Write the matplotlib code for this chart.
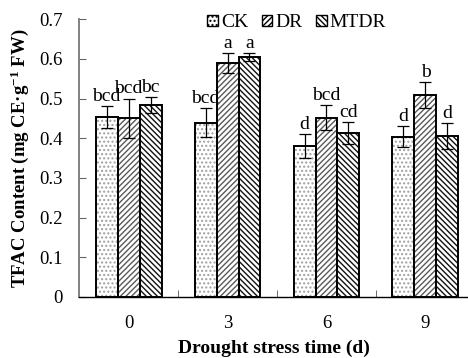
import numpy as np
import matplotlib
matplotlib.use("Agg")
import matplotlib.pyplot as plt
from matplotlib.patches import Patch

plt.rcParams['font.family'] = ['Liberation Serif', 'DejaVu Serif']
plt.rcParams['mathtext.fontset'] = 'custom'
plt.rcParams['mathtext.rm'] = 'Liberation Serif'
plt.rcParams['mathtext.bf'] = 'Liberation Serif:bold'
plt.rcParams['mathtext.default'] = 'bf'
plt.rcParams['hatch.linewidth'] = 1.0

days = ["0", "3", "6", "9"]
series = ["CK", "DR", "MTDR"]
ck = [0.454, 0.439, 0.381, 0.404]
dr = [0.450, 0.589, 0.452, 0.509]
mtdr = [0.484, 0.605, 0.413, 0.405]
ck_err = [0.027, 0.037, 0.030, 0.027]
dr_err = [0.050, 0.025, 0.032, 0.033]
mtdr_err = [0.020, 0.010, 0.028, 0.033]
ck_lab = ["bcd", "bcd", "d", "d"]
dr_lab = ["bcd", "a", "bcd", "b"]
mtdr_lab = ["bc", "a", "cd", "d"]

values = [ck, dr, mtdr]
errs = [ck_err, dr_err, mtdr_err]
labs = [ck_lab, dr_lab, mtdr_lab]
hatches = ["....", "//////", "\\\\\\\\\\\\"]
hatch_cols = ["#a0a0a0", "#5a5a5a", "#111111"]

fig = plt.figure(figsize=(4.68, 3.58), dpi=100)
ax = fig.add_axes([0.169, 0.171, 0.831, 0.775])

x = np.arange(len(days))
w = 0.222
for i in range(3):
    pos = x + (i - 1) * w
    # hatch layer
    ax.bar(pos, values[i], w, color="white", edgecolor=hatch_cols[i],
           hatch=hatches[i], linewidth=0, zorder=2)
    # outline layer
    ax.bar(pos, values[i], w, color="none", edgecolor="black",
           linewidth=1.4, zorder=3)
    ax.errorbar(pos, values[i], yerr=errs[i], fmt="none", ecolor="black",
                elinewidth=0.9, capsize=4.3, capthick=0.9, zorder=4)
    for p, v, e, t in zip(pos, values[i], errs[i], labs[i]):
        ax.text(p, v + e + 0.003, t, ha="center", va="bottom", fontsize=14)

ax.set_xlim(-0.5, 3.43)
ax.set_ylim(0, 0.7)
ax.set_yticks(np.arange(0, 0.71, 0.1))
ax.set_yticklabels(["0", "0.1", "0.2", "0.3", "0.4", "0.5", "0.6", "0.7"])
ax.set_xticks(x)
ax.set_xticklabels(days)
ax.set_xticks([0.5, 1.5, 2.5], minor=True)
ax.tick_params(axis="x", which="major", length=0, labelsize=13.5, pad=13)
ax.tick_params(axis="x", which="minor", direction="in", length=5, color="#555555")
ax.tick_params(axis="y", direction="in", length=5, labelsize=13.5, pad=12,
               color="#666666")

for s in ["top", "right"]:
    ax.spines[s].set_visible(False)
ax.spines["left"].set_color("#777777")
ax.spines["left"].set_linewidth(1.3)
ax.spines["bottom"].set_color("black")
ax.spines["bottom"].set_linewidth(1.0)

ax.set_xlabel("Drought stress time (d)", fontsize=14, fontweight="bold", labelpad=6)
ax.set_ylabel("TFAC Content (mg CE\u00b7g$^{-1}$ FW)", fontsize=13.5,
              fontweight="bold", labelpad=6)

handles = [Patch(facecolor="white", edgecolor="black", hatch=hatches[i], linewidth=1.0)
           for i in range(3)]
ax.legend(handles, series, loc="center", bbox_to_anchor=(0.634, 0.936),
          bbox_transform=fig.transFigure, ncol=3, frameon=False, fontsize=14,
          handlelength=0.55, handleheight=0.55, handletextpad=0.15,
          columnspacing=0.7, borderpad=0.1)

fig.savefig("out.png", dpi=100)
